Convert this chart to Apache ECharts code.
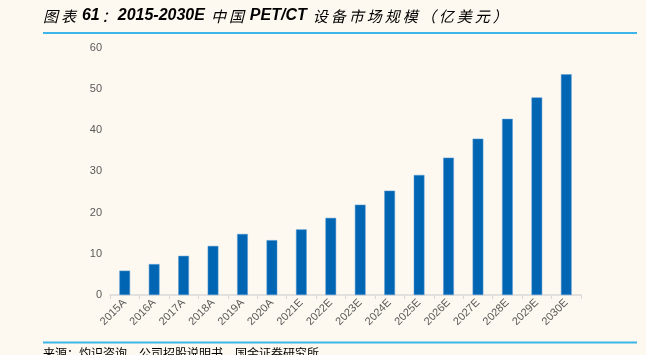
<!DOCTYPE html>
<html><head><meta charset="utf-8">
<script src="https://cdn.jsdelivr.net/npm/echarts@6/dist/echarts.min.js"></script>
<style>html,body{margin:0;padding:0;background:#FEF9F0;}#c{width:646px;height:355px;}</style>
</head><body><div id="c"></div>
<script>
const categories = ['2015A','2016A','2017A','2018A','2019A','2020A','2021E','2022E','2023E','2024E','2025E','2026E','2027E','2028E','2029E','2030E'];
const values = [5.9, 7.5, 9.5, 11.9, 14.8, 13.3, 15.9, 18.7, 21.9, 25.3, 29.1, 33.3, 37.9, 42.7, 47.9, 53.5];
const titleParts = [['c','图表'],['s',' '],['l','61'],['c','：'],['l','2015-2030E'],['s',' '],['c','中国'],['s',' '],['l','PET/CT'],['s',' '],['c','设备市场规模（亿美元）']];
const sourceText = '来源：灼识咨询，公司招股说明书，国金证券研究所';

const titleRich = titleParts.map(p => p[0] === 'c'
  ? Array.from(p[1]).map(ch => '{c|' + ch + '}').join('')
  : '{' + p[0] + '|' + p[1] + '}').join('');

const chart = echarts.init(document.getElementById('c'));
chart.setOption({
  backgroundColor: '#FEF9F0',
  animation: false,
  graphic: [
    {type:'text', left:43, top:8, style:{text:titleRich, rich:{
      c:{fontSize:15, fontStyle:'italic', fontFamily:'"Noto Sans CJK SC"', color:'#000', padding:[0,1.5,0,1.5]},
      l:{fontSize:16, fontStyle:'italic', fontWeight:'bold', fontFamily:'"Liberation Sans", Arial', color:'#000'},
      s:{fontSize:16, fontFamily:'"Liberation Sans", Arial', color:'#000'}
    }}},
    {type:'rect', shape:{x:43, y:32, width:594, height:2}, style:{fill:'#3DB5E8'}},
    {type:'rect', shape:{x:43, y:341.5, width:594, height:2}, style:{fill:'#3DB5E8'}},
    {type:'text', left:43, top:347, style:{text:sourceText, font:'12px "Noto Sans CJK SC", sans-serif', fill:'#000'}}
  ],
  grid: {left:110, right:65, top:47.5, bottom:60, containLabel:false},
  xAxis: {
    type:'category', data:categories, boundaryGap:true,
    axisLine:{lineStyle:{color:'#D9D9D9', width:1.5}},
    axisTick:{show:true, alignWithLabel:false, length:4, lineStyle:{color:'#D9D9D9'}},
    axisLabel:{rotate:45, color:'#595959', fontSize:11, fontFamily:'Liberation Sans, Arial, sans-serif', margin:6, interval:0}
  },
  yAxis: {
    type:'value', min:0, max:60, interval:10,
    splitLine:{show:false}, axisLine:{show:false}, axisTick:{show:false},
    axisLabel:{color:'#595959', fontSize:11, fontFamily:'Liberation Sans, Arial, sans-serif', margin:8}
  },
  series: [{
    type:'bar', data:values, barWidth:10.7,
    itemStyle:{color:'#0066B3', borderColor:'#5A9BD5', borderWidth:0.5}
  }]
});
</script></body></html>
